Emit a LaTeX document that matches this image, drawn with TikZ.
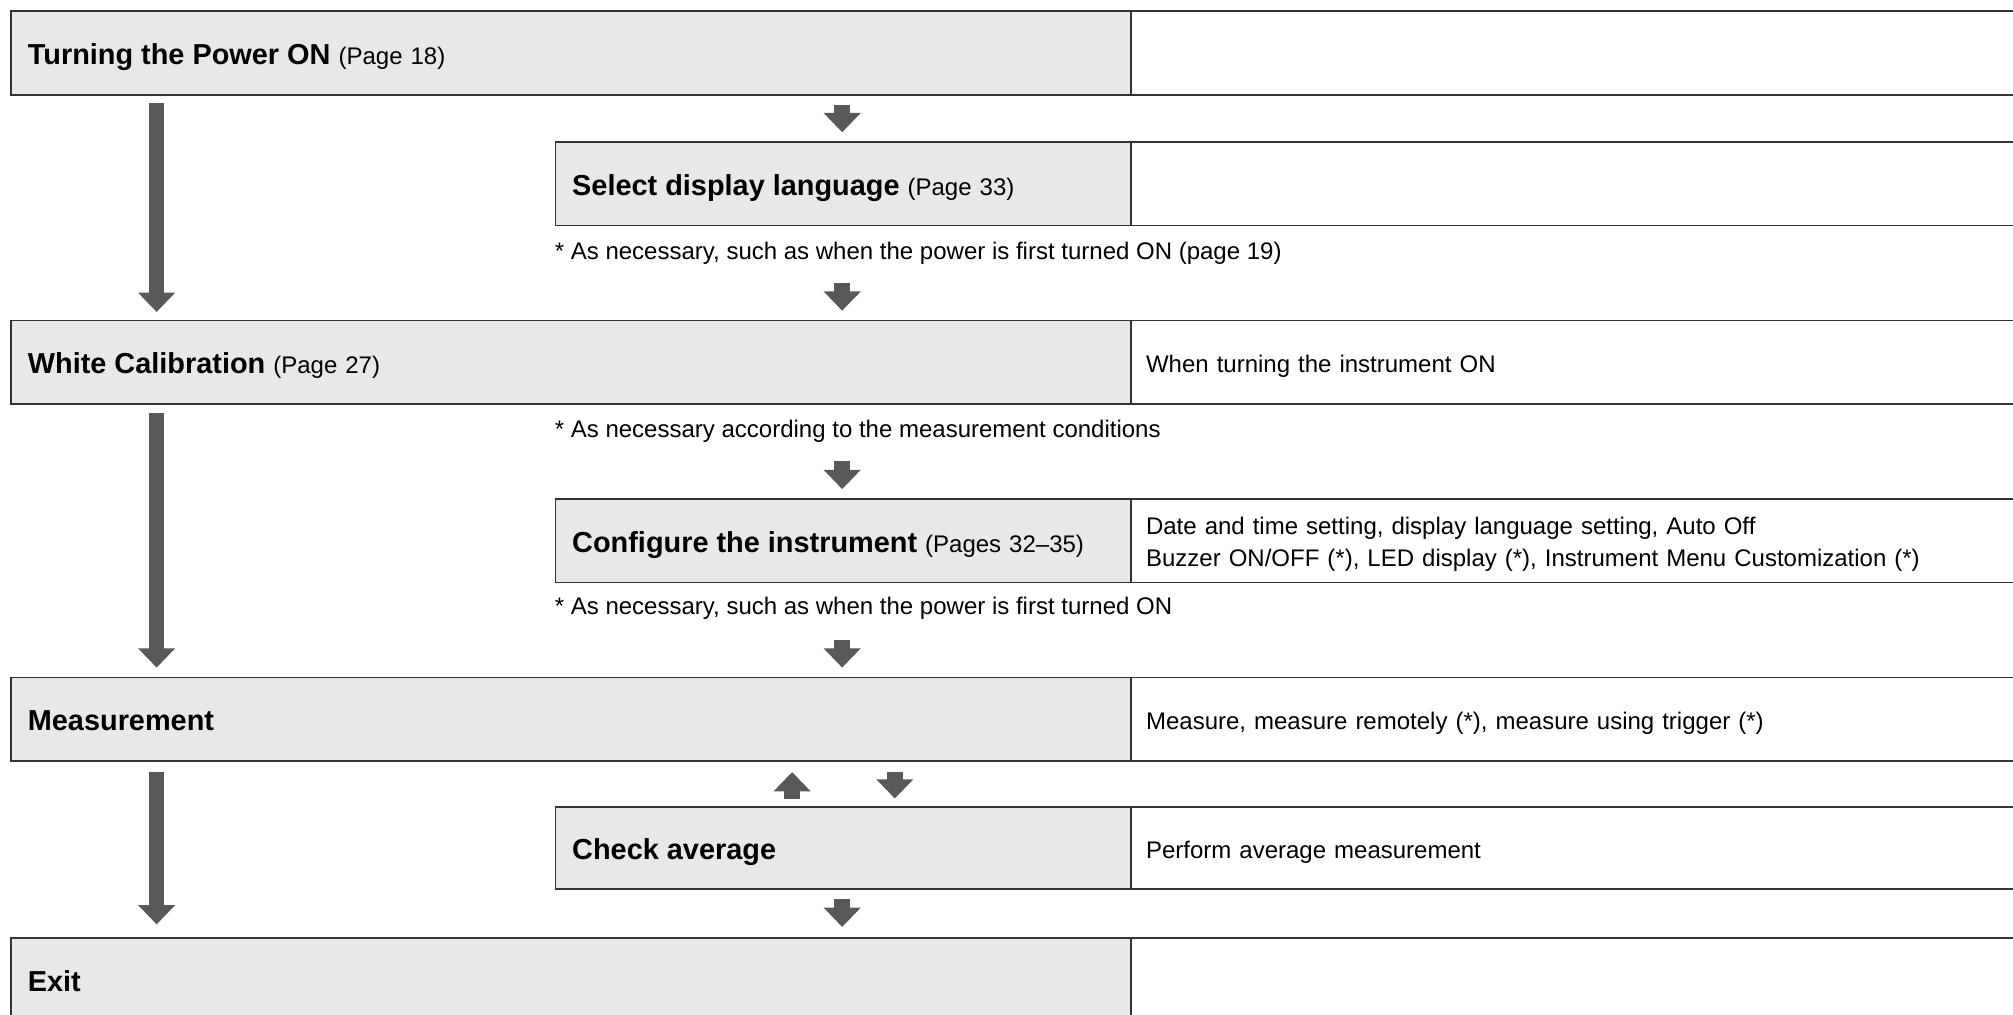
\documentclass[tikz,border=0pt]{standalone}
\usepackage{fontspec}
\setmainfont{Liberation Sans}
\usetikzlibrary{arrows.meta,calc}
\definecolor{boxfill}{HTML}{E8E8E8}
\definecolor{boxline}{HTML}{333333}
\definecolor{arrcol}{HTML}{595959}
\newcommand\rgf{\fontsize{18.7}{25}\selectfont}
\newcommand\bgf{\fontsize{22.5}{27}\selectfont\bfseries}
\begin{document}
\begin{tikzpicture}[x=1pt,y=-1pt,
  cellbase/.style={draw=boxline, line width=1.4pt, rectangle, anchor=north west,
    inner xsep=0pt, inner ysep=0pt, minimum height=65pt, align=left, font=\rgf},
  gfull/.style={cellbase, fill=boxfill, minimum width=872pt, text width=846pt, text height=22pt, text depth=4pt},
  gsub/.style={cellbase, fill=boxfill, minimum width=448pt, text width=422pt, text height=22pt, text depth=4pt},
  wcell/.style={cellbase, fill=white, minimum width=700pt, text width=676pt, text height=20.5pt, text depth=4pt},
  notetext/.style={anchor=west, inner sep=0pt, font=\rgf},
  bigarr/.style={draw=arrcol, line width=12pt, -{Triangle[width=28pt,length=15pt]}}
]
\useasboundingbox (0,0) rectangle (1568,790);
\clip (0,0) rectangle (1568,790);
\fill[white] (0,0) rectangle (1568,790);

% rows
\node[gfull] (pwr) at (8,8) {{\bgf Turning the Power ON} (Page 18)};
\node[wcell] (pwrR) at (880,8) {};

\node[gsub] (sel) at (432,110) {{\bgf Select display language} (Page 33)};
\node[wcell] (selR) at (880,110) {};
\node[notetext] (n1) at (432,197) {* As necessary, such as when the power is first turned ON (page 19)};

\node[gfull] (cal) at (8,249) {{\bgf White Calibration} (Page 27)};
\node[wcell] (calR) at (880,249) {When turning the instrument ON};
\node[notetext] (n2) at (432,336) {* As necessary according to the measurement conditions};

\node[gsub] (conf) at (432,388) {{\bgf Configure the instrument} (Pages 32--35)};
\node[wcell, text height=, text depth=] (confR) at (880,388) {\raisebox{-2.5pt}[\height][\depth]{\begin{tabular}{@{}l@{}}Date and time setting, display language setting, Auto Off\\Buzzer ON/OFF (*), LED display (*), Instrument Menu Customization (*)\end{tabular}}};
\node[notetext] (n3) at (432,474) {* As necessary, such as when the power is first turned ON};

\node[gfull] (meas) at (8,527) {{\bgf Measurement}};
\node[wcell] (measR) at (880,527) {Measure, measure remotely (*), measure using trigger (*)};

\node[gsub, minimum height=64pt] (chk) at (432,628) {{\bgf Check average}};
\node[wcell, minimum height=64pt] (chkR) at (880,628) {Perform average measurement};

\node[gfull] (exit) at (8,730) {{\bgf Exit}};
\node[wcell] (exitR) at (880,730) {};

% arrow columns
\coordinate (L) at (122,0);
\coordinate (C) at (656,0);
\coordinate (U) at (617,0);
\coordinate (D) at (697,0);

% long arrows
\draw[bigarr, shorten <=6pt, shorten >=6pt] (pwr.south -| L) -- (cal.north -| L);
\draw[bigarr, shorten <=6pt, shorten >=7pt] (cal.south -| L) -- (meas.north -| L);
\draw[bigarr, shorten <=8pt, shorten >=10pt] (meas.south -| L) -- (exit.north -| L);

% short arrows
\draw[bigarr, shorten <=7pt, shorten >=7pt] (pwr.south -| C) -- (sel.north -| C);
\draw[bigarr, shorten <=44pt, shorten >=7pt] (sel.south -| C) -- (cal.north -| C);
\draw[bigarr, shorten <=44pt, shorten >=7pt] (cal.south -| C) -- (conf.north -| C);
\draw[bigarr, shorten <=44pt, shorten >=7pt] (conf.south -| C) -- (meas.north -| C);
\draw[bigarr, shorten <=6pt, shorten >=8pt] (chk.north -| U) -- (meas.south -| U);
\draw[bigarr, shorten <=8pt, shorten >=6pt] (meas.south -| D) -- (chk.north -| D);
\draw[bigarr, shorten <=7pt, shorten >=8pt] (chk.south -| C) -- (exit.north -| C);
\end{tikzpicture}
\end{document}
